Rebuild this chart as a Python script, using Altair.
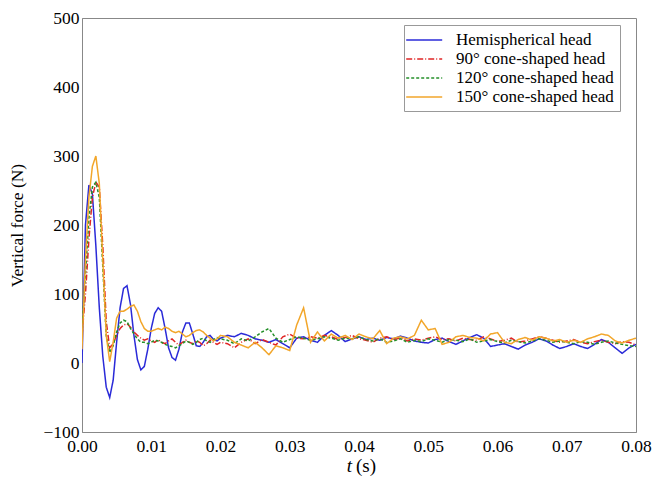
import altair as alt
import pandas as pd

# time grids (s)
t_early = [round(i * 0.0005, 4) for i in range(41)]          # 0 .. 0.020
t_late = [round(0.021 + i * 0.001, 3) for i in range(60)]     # 0.021 .. 0.080
t_all = t_early + t_late

hemi = [0, 200, 258, 245, 170, 80, 10, -35, -50, -25, 30, 80, 108, 112, 85, 40, 5, -10, -5, 20,
        50, 72, 80, 75, 50, 22, 8, 4, 20, 45, 58, 58, 42, 25, 24, 30, 38, 40, 34, 32, 36,
        40, 38, 43, 40, 35, 33, 30, 34, 28, 22, 36, 38, 33, 30, 40, 47, 40, 31, 35, 38,
        34, 36, 33, 37, 35, 39, 36, 32, 30, 29, 34, 36, 31, 27, 32, 37, 41, 36, 24, 26,
        28, 24, 20, 26, 30, 35, 32, 26, 21, 24, 28, 24, 21, 27, 34, 30, 22, 14, 22, 27]

cone90 = [40, 100, 180, 240, 262, 255, 170, 60, 22, 28, 40, 50, 55, 57, 52, 45, 40, 36, 33, 35,
          32, 30, 34, 30, 28, 32, 35, 30, 26, 30, 33, 30, 28, 32, 30, 25, 28, 33, 30, 27, 30,
          28, 22, 30, 35, 28, 34, 30, 26, 38, 42, 36, 35, 38, 36, 40, 38, 34, 37, 40, 35,
          33, 30, 36, 38, 34, 36, 32, 35, 33, 36, 38, 34, 35, 32, 36, 34, 33, 38, 35, 31,
          33, 36, 30, 32, 35, 38, 36, 33, 30, 32, 34, 30, 28, 31, 33, 30, 28, 31, 30, 26]

cone120 = [50, 130, 210, 255, 262, 240, 140, 40, 15, 25, 45, 58, 62, 60, 50, 42, 35, 30, 30, 28,
           30, 33, 32, 30, 27, 25, 24, 22, 25, 28, 32, 30, 27, 30, 34, 36, 32, 30, 34, 37, 35,
           33, 28, 35, 32, 38, 45, 50, 36, 30, 34, 38, 36, 33, 35, 38, 36, 33, 36, 35, 38,
           34, 32, 35, 30, 32, 35, 30, 33, 31, 35, 33, 30, 34, 33, 31, 35, 30, 32, 34, 31,
           29, 33, 31, 29, 32, 35, 33, 30, 32, 30, 28, 31, 30, 27, 30, 32, 29, 27, 25, 24]

cone150 = [20, 150, 240, 285, 300, 260, 150, 40, 2, 30, 65, 75, 75, 78, 82, 84, 75, 60, 50, 46,
           46, 48, 50, 48, 52, 50, 46, 44, 46, 42, 38, 40, 44, 47, 48, 45, 40, 36, 32, 35, 40,
           38, 30, 26, 22, 30, 22, 12, 25, 22, 18, 55, 80, 30, 45, 32, 42, 36, 40, 34, 42,
           38, 35, 47, 28, 36, 38, 35, 40, 62, 48, 50, 27, 30, 38, 40, 37, 36, 32, 42, 44,
           30, 28, 34, 37, 33, 38, 36, 32, 34, 30, 33, 30, 35, 38, 42, 40, 32, 29, 33, 36]

names = ["Hemispherical head", "90° cone-shaped head", "120° cone-shaped head", "150° cone-shaped head"]
series_values = [hemi, cone90, cone120, cone150]
colors = ["#2a2ad8", "#e02525", "#25902a", "#f2a62a"]
dashes = [[1, 0], [6, 2, 1, 2], [3, 2], [1, 0]]

x_ticks = [0.0, 0.01, 0.02, 0.03, 0.04, 0.05, 0.06, 0.07, 0.08]
y_ticks = [-100, 0, 100, 200, 300, 400, 500]

rows = []
for name, vals in zip(names, series_values):
    for t, f in zip(t_all, vals):
        rows.append({"t": t, "F": f, "series": name})
df = pd.DataFrame(rows)

FONT = "Liberation Serif"

lines = alt.Chart(df).mark_line(strokeWidth=1.5, clip=True).encode(
    x=alt.X("t:Q", scale=alt.Scale(domain=[0, 0.08], nice=False, zero=False),
            axis=alt.Axis(values=x_ticks, format=".2f", title=None, labelFlush=False)),
    y=alt.Y("F:Q", scale=alt.Scale(domain=[-100, 500], nice=False),
            axis=alt.Axis(values=y_ticks, title="Vertical force (N)", labelFlush=False)),
    color=alt.Color("series:N", scale=alt.Scale(domain=names, range=colors),
                    legend=alt.Legend(title=None, orient="none", legendX=322, legendY=7,
                                      symbolType="M-1.6,0H2.9", symbolSize=256, symbolStrokeWidth=1.5,
                                      labelFont=FONT, labelFontSize=17, labelColor="black",
                                      labelOffset=28, rowPadding=2, padding=6,
                                      strokeColor="#999999", fillColor="white", labelLimit=300)),
    strokeDash=alt.StrokeDash("series:N", scale=alt.Scale(domain=names, range=dashes), legend=None),
    order=alt.Order("t:Q"),
)

label_df = pd.DataFrame({"a": [0]})
xt = alt.Chart(label_df).mark_text(text="t", font=FONT, fontSize=19, fontStyle="italic",
                                   align="right", baseline="middle").encode(
    x=alt.value(270), y=alt.value(448))
xs = alt.Chart(label_df).mark_text(text="(s)", font=FONT, fontSize=19,
                                   align="left", baseline="middle").encode(
    x=alt.value(274), y=alt.value(448))

chart = alt.layer(lines, xt, xs).properties(
    width=554, height=414,
    autosize=alt.AutoSizeParams(type="none"),
    padding={"left": 82, "top": 18, "right": 16, "bottom": 49},
).configure_view(stroke="#888888", strokeWidth=1).configure_axis(
    labelFont=FONT, labelFontSize=17.5, labelColor="black", titleFont=FONT, titleFontSize=17.5,
    titleFontWeight="normal", titleColor="black", grid=False, ticks=False,
    domainColor="#888888", labelPadding=4,
).configure_axisY(titlePadding=16, labelPadding=3).configure_axisX(labelPadding=5)

chart.save("out.html", embed_options={"renderer": "svg", "actions": False})
